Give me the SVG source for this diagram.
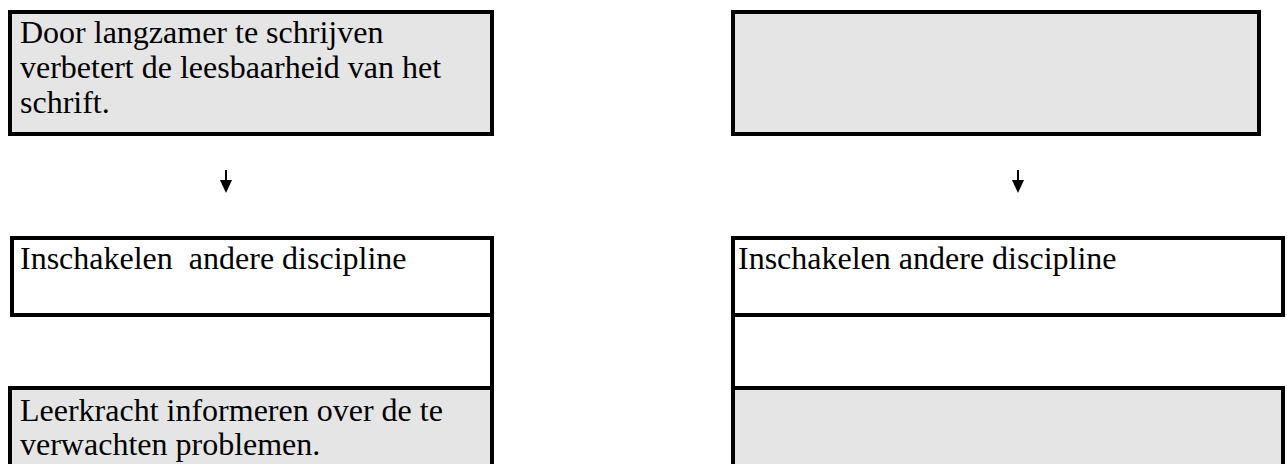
<svg xmlns="http://www.w3.org/2000/svg" width="1287" height="464" viewBox="0 0 1287 464">
  <style>
    .box { stroke: #000; stroke-width: 4; }
    .shade { fill: #e5e5e5; }
    .plain { fill: #ffffff; }
    .edge { stroke: #000; stroke-width: 4; fill: none; }
    .label { font-family: "Liberation Serif", "Times New Roman", serif; font-size: 32px; fill: #000; }
    .shaft { stroke: #000; stroke-width: 2; }
    .head { fill: #000; }
  </style>
  <rect width="1287" height="464" fill="#ffffff"/>

  <!-- left column -->
  <g id="left-cause">
    <rect class="box shade" x="10" y="12" width="482" height="122"/>
    <text class="label" x="20" y="43">Door langzamer te schrijven</text>
    <text class="label" x="20" y="78">verbetert de leesbaarheid van het</text>
    <text class="label" x="20" y="113">schrift.</text>
  </g>
  <g id="left-action">
    <rect class="box plain" x="12" y="238" width="480" height="77"/>
    <text class="label" x="20" y="269" xml:space="preserve">Inschakelen  andere discipline</text>
  </g>
  <g id="left-gap">
    <line class="edge" x1="492" y1="315" x2="492" y2="388"/>
  </g>
  <g id="left-inform">
    <rect class="box shade" x="10" y="388" width="482" height="100"/>
    <text class="label" x="20" y="421">Leerkracht informeren over de te</text>
    <text class="label" x="20" y="455">verwachten problemen.</text>
  </g>

  <!-- right column -->
  <g id="right-cause">
    <rect class="box shade" x="733" y="12" width="526" height="122"/>
  </g>
  <g id="right-action">
    <rect class="box plain" x="733" y="238" width="550" height="77"/>
    <text class="label" x="738" y="269">Inschakelen andere discipline</text>
  </g>
  <g id="right-gap">
    <line class="edge" x1="733" y1="315" x2="733" y2="388"/>
  </g>
  <g id="right-empty">
    <rect class="box shade" x="733" y="388" width="550" height="100"/>
  </g>

  <!-- connectors -->
  <g id="connectors">
    <line class="shaft" x1="226" y1="170" x2="226" y2="182"/>
    <polygon class="head" points="220,180 232,180 226,193"/>
    <line class="shaft" x1="1018" y1="170" x2="1018" y2="182"/>
    <polygon class="head" points="1012,180 1024,180 1018,193"/>
  </g>
</svg>
